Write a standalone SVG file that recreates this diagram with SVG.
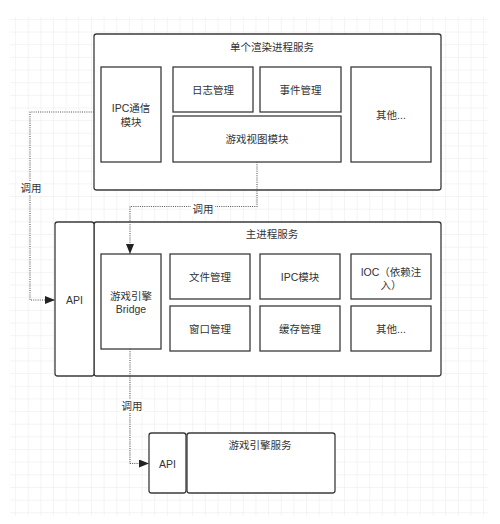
<svg xmlns="http://www.w3.org/2000/svg" width="500" height="524" viewBox="0 0 500 524">
<style>
.box{fill:#fff;stroke:#3b3b3b;stroke-width:1.3}
.t{font-family:"Liberation Sans","Noto Sans CJK SC",sans-serif;font-size:10.5px;fill:#333;text-anchor:middle;dominant-baseline:central}
.e{fill:none;stroke:#555;stroke-width:1.1;stroke-dasharray:1 1.2}
</style>
<defs>
<pattern id="grid" patternUnits="userSpaceOnUse" x="3.4" y="7.25" width="12.65" height="12.65">
<path d="M12.65 0V12.65M0 12.65H12.65" fill="none" stroke="#e9e9e9" stroke-width="1"/>
</pattern>
<marker id="arr" viewBox="0 0 10 8" refX="10" refY="4" markerWidth="10" markerHeight="8" markerUnits="userSpaceOnUse" orient="auto">
<path d="M0 0L10 4L0 8z" fill="#222"/>
</marker>
</defs>
<rect width="500" height="524" fill="#fff"/>
<rect x="10" y="17" width="478" height="499" fill="url(#grid)"/>

<g id="render">
<rect class="box" x="94" y="34" width="347" height="156" rx="2.5"/>
<text class="t" x="272" y="46.5">单个渲染进程服务</text>
</g>
<g id="ipc-comm"><rect class="box" x="101" y="67" width="60" height="95"/>
<text class="t" x="131"><tspan x="131" y="108">IPC通信</tspan><tspan x="131" y="121.5">模块</tspan></text></g>
<g id="log"><rect class="box" x="173" y="67" width="80" height="45"/><text class="t" x="213" y="90">日志管理</text></g>
<g id="event"><rect class="box" x="260" y="67" width="81" height="45"/><text class="t" x="300.5" y="90">事件管理</text></g>
<g id="view"><rect class="box" x="173" y="116" width="168" height="46"/><text class="t" x="257" y="139">游戏视图模块</text></g>
<g id="other1"><rect class="box" x="351" y="67" width="80" height="95"/><text class="t" x="391" y="115">其他...</text></g>

<g id="main">
<rect class="box" x="94" y="222" width="347" height="154" rx="2.5"/>
<text class="t" x="272" y="233.5">主进程服务</text>
</g>
<g id="main-api"><rect class="box" x="55" y="222" width="39" height="154" rx="2.5"/><text class="t" x="74.5" y="300">API</text></g>
<g id="bridge"><rect class="box" x="101" y="254" width="60" height="95"/>
<text class="t" x="131"><tspan x="131" y="296">游戏引擎</tspan><tspan x="131" y="308.5">Bridge</tspan></text></g>
<g id="file"><rect class="box" x="170" y="254" width="80" height="45"/><text class="t" x="210" y="277">文件管理</text></g>
<g id="ipcmod"><rect class="box" x="260" y="254" width="80" height="45"/><text class="t" x="300" y="277">IPC模块</text></g>
<g id="ioc"><rect class="box" x="351" y="254" width="80" height="45"/>
<text class="t" x="391"><tspan x="391" y="271.5">IOC（依赖注</tspan><tspan x="391" y="284.5">入）</tspan></text></g>
<g id="window"><rect class="box" x="170" y="306" width="80" height="45"/><text class="t" x="210" y="329">窗口管理</text></g>
<g id="cache"><rect class="box" x="260" y="306" width="80" height="45"/><text class="t" x="300" y="329">缓存管理</text></g>
<g id="other2"><rect class="box" x="351" y="306" width="80" height="45"/><text class="t" x="391" y="329">其他...</text></g>

<g id="engine">
<rect class="box" x="187" y="433" width="148" height="60" rx="2.5"/>
<text class="t" x="260" y="445">游戏引擎服务</text>
</g>
<g id="engine-api"><rect class="box" x="149" y="433" width="37" height="60" rx="2.5"/><text class="t" x="167.5" y="464">API</text></g>

<g id="connectors">
<path class="e" d="M94 112H30V300H55" marker-end="url(#arr)"/>
<path class="e" d="M257 162V206.5H130V254" marker-end="url(#arr)"/>
<path class="e" d="M130 349V463.5H149" marker-end="url(#arr)"/>
<rect x="19" y="181" width="24" height="14" fill="#fff"/>
<text class="t" x="31" y="188">调用</text>
<rect x="191" y="202" width="24" height="14" fill="#fff"/>
<text class="t" x="203" y="209">调用</text>
<rect x="120" y="399" width="24" height="14" fill="#fff"/>
<text class="t" x="132" y="406">调用</text>
</g>
</svg>
